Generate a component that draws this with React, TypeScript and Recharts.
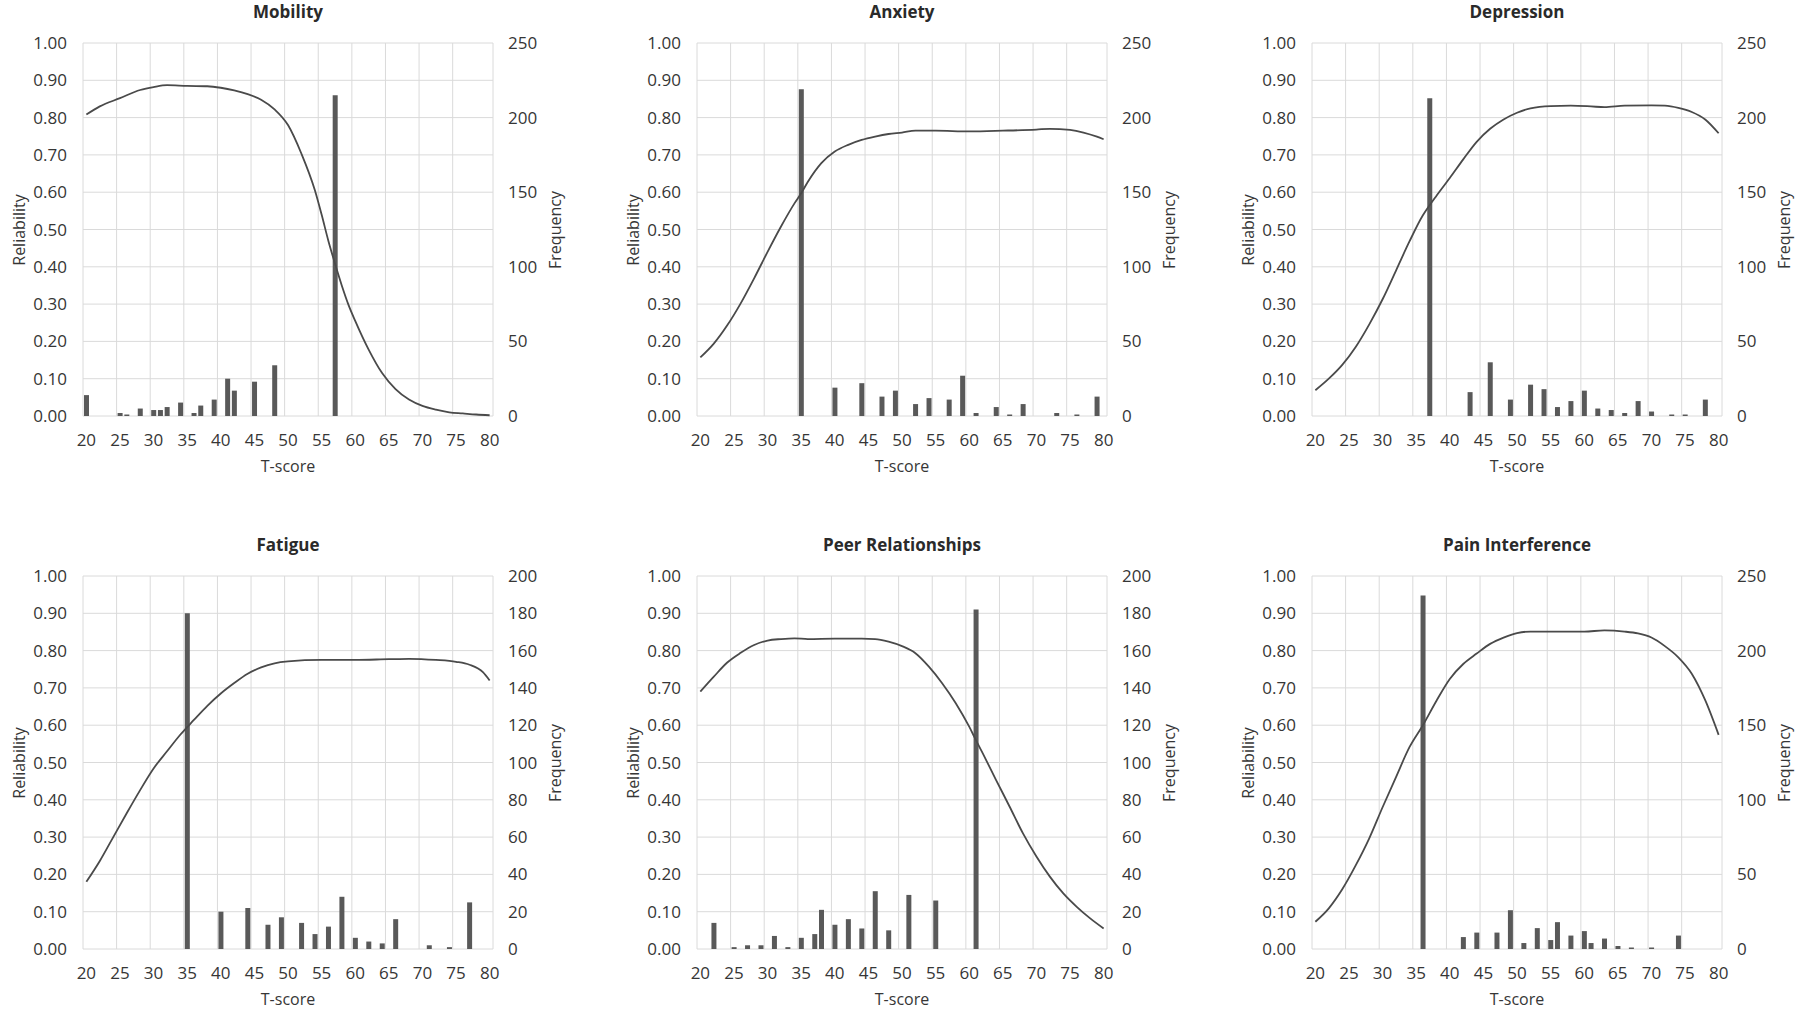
import { ComposedChart, Bar, Line, XAxis, YAxis, CartesianGrid } from 'recharts';

// shared axis ticks
const tTicks = [20, 25, 30, 35, 40, 45, 50, 55, 60, 65, 70, 75, 80];
const gridT = [19.5, 24.5, 29.5, 34.5, 39.5, 44.5, 49.5, 54.5, 59.5, 64.5, 69.5, 74.5, 79.5, 80.5];
const relTicks = [0, 0.1, 0.2, 0.3, 0.4, 0.5, 0.6, 0.7, 0.8, 0.9, 1];
const freqTicks250 = [0, 50, 100, 150, 200, 250];
const freqTicks200 = [0, 20, 40, 60, 80, 100, 120, 140, 160, 180, 200];

// Mobility
const mobilityCurveT = [20, 22, 25, 28, 30, 32, 35, 38, 40, 42, 44, 46, 48, 50, 52, 54, 55, 56, 57, 58, 59, 60, 62, 64, 66, 68, 70, 72, 74, 76, 78, 80];
const mobilityCurveR = [0.808, 0.83, 0.852, 0.874, 0.882, 0.887, 0.885, 0.884, 0.88, 0.873, 0.863, 0.848, 0.822, 0.78, 0.703, 0.605, 0.54, 0.47, 0.408, 0.35, 0.298, 0.255, 0.178, 0.115, 0.072, 0.044, 0.027, 0.017, 0.01, 0.007, 0.004, 0.002];
const mobilityBarT = [20, 25, 26, 28, 30, 31, 32, 34, 36, 37, 39, 41, 42, 45, 48, 57];
const mobilityBarN = [14, 2, 1, 5, 4, 4, 6, 9, 2, 7, 11, 25, 17, 23, 34, 215];

// Anxiety
const anxietyCurveT = [20, 22, 24, 26, 28, 30, 32, 34, 35, 36, 38, 40, 42, 44, 46, 48, 50, 52, 55, 60, 65, 70, 72, 75, 77, 79, 80];
const anxietyCurveR = [0.157, 0.194, 0.243, 0.302, 0.369, 0.44, 0.508, 0.57, 0.597, 0.628, 0.678, 0.709, 0.727, 0.74, 0.749, 0.756, 0.76, 0.765, 0.765, 0.763, 0.765, 0.768, 0.77, 0.767, 0.76, 0.749, 0.742];
const anxietyBarT = [35, 40, 44, 47, 49, 52, 54, 57, 59, 61, 64, 66, 68, 73, 76, 79];
const anxietyBarN = [219, 19, 22, 13, 17, 8, 12, 11, 27, 2, 6, 1, 8, 2, 1, 13];

// Depression
const depressionCurveT = [20, 22, 24, 26, 28, 30, 32, 34, 36, 37, 38, 40, 42, 44, 46, 48, 50, 52, 55, 58, 61, 63, 66, 70, 72, 74, 76, 78, 80];
const depressionCurveR = [0.069, 0.1, 0.137, 0.185, 0.245, 0.313, 0.39, 0.468, 0.538, 0.565, 0.59, 0.638, 0.688, 0.735, 0.77, 0.795, 0.813, 0.825, 0.831, 0.832, 0.83, 0.828, 0.832, 0.833, 0.832, 0.826, 0.815, 0.795, 0.758];
const depressionBarT = [37, 43, 46, 49, 52, 54, 56, 58, 60, 62, 64, 66, 68, 70, 73, 75, 78];
const depressionBarN = [213, 16, 36, 11, 21, 18, 6, 10, 17, 5, 4, 2, 10, 3, 1, 1, 11];

// Fatigue
const fatigueCurveT = [20, 22, 24, 26, 28, 30, 32, 34, 36, 38, 40, 42, 44, 46, 48, 50, 55, 60, 65, 68, 72, 75, 77, 79, 80];
const fatigueCurveR = [0.18, 0.236, 0.3, 0.364, 0.426, 0.484, 0.53, 0.575, 0.614, 0.652, 0.685, 0.713, 0.738, 0.755, 0.766, 0.771, 0.775, 0.775, 0.777, 0.778, 0.775, 0.77, 0.762, 0.742, 0.72];
const fatigueBarT = [35, 40, 44, 47, 49, 52, 54, 56, 58, 60, 62, 64, 66, 71, 74, 77];
const fatigueBarN = [180, 20, 22, 13, 17, 14, 8, 12, 28, 6, 4, 3, 16, 2, 1, 25];

// Peer Relationships
const peerCurveT = [20, 22, 24, 26, 28, 30, 32, 34, 36, 40, 44, 46, 48, 50, 52, 54, 56, 58, 60, 61, 62, 64, 66, 68, 70, 72, 74, 76, 78, 80];
const peerCurveR = [0.69, 0.73, 0.768, 0.794, 0.815, 0.827, 0.831, 0.833, 0.831, 0.832, 0.832, 0.831, 0.824, 0.812, 0.793, 0.757, 0.712, 0.659, 0.596, 0.56, 0.525, 0.453, 0.382, 0.31, 0.248, 0.194, 0.149, 0.113, 0.082, 0.055];
const peerBarT = [22, 25, 27, 29, 31, 33, 35, 37, 38, 40, 42, 44, 46, 48, 51, 55, 61];
const peerBarN = [14, 1, 2, 2, 7, 1, 6, 8, 21, 13, 16, 11, 31, 10, 29, 26, 182];

// Pain Interference
const painCurveT = [20, 22, 24, 26, 28, 30, 32, 34, 36, 38, 40, 42, 44, 46, 48, 50, 52, 55, 60, 63, 66, 68, 70, 72, 74, 76, 78, 80];
const painCurveR = [0.073, 0.109, 0.16, 0.224, 0.296, 0.38, 0.461, 0.541, 0.6, 0.665, 0.724, 0.764, 0.792, 0.818, 0.835, 0.847, 0.851, 0.851, 0.851, 0.854, 0.851, 0.846, 0.835, 0.812, 0.782, 0.738, 0.667, 0.574];
const painBarT = [36, 42, 44, 47, 49, 51, 53, 55, 56, 58, 60, 61, 63, 65, 67, 70, 74];
const painBarN = [237, 8, 11, 11, 26, 4, 14, 6, 18, 9, 12, 4, 7, 2, 1, 1, 9];

type Row = { t: number; rel?: number; freq?: number };

function buildRows(curveT: number[], curveR: number[], barT: number[], barN: number[]): Row[] {
  const rows = new Map<number, Row>();
  curveT.forEach((t, i) => {
    const row = rows.get(t) ?? { t };
    row.rel = curveR[i];
    rows.set(t, row);
  });
  barT.forEach((t, i) => {
    const row = rows.get(t) ?? { t };
    row.freq = barN[i];
    rows.set(t, row);
  });
  return [...rows.values()].sort((a, b) => a.t - b.t);
}

const panels = [
  { title: 'Mobility', rows: buildRows(mobilityCurveT, mobilityCurveR, mobilityBarT, mobilityBarN), freqTicks: freqTicks250 },
  { title: 'Anxiety', rows: buildRows(anxietyCurveT, anxietyCurveR, anxietyBarT, anxietyBarN), freqTicks: freqTicks250 },
  { title: 'Depression', rows: buildRows(depressionCurveT, depressionCurveR, depressionBarT, depressionBarN), freqTicks: freqTicks250 },
  { title: 'Fatigue', rows: buildRows(fatigueCurveT, fatigueCurveR, fatigueBarT, fatigueBarN), freqTicks: freqTicks200 },
  { title: 'Peer Relationships', rows: buildRows(peerCurveT, peerCurveR, peerBarT, peerBarN), freqTicks: freqTicks200 },
  { title: 'Pain Interference', rows: buildRows(painCurveT, painCurveR, painBarT, painBarN), freqTicks: freqTicks250 },
];

const COL_LEFT = [83, 697, 1312];
const ROW_TOP = [43, 576];
const PLOT_W = 410;
const PLOT_H = 373;
const SIDE = 75;
const TOP = 16;
const FONT = '"Open Sans", "Noto Sans", sans-serif';
const TEXT = '#363636';

const tickStyle = { fontSize: 17, fill: TEXT, fontFamily: FONT };

function Panel({ index }: { index: number }) {
  const p = panels[index];
  const L = COL_LEFT[index % 3];
  const T = ROW_TOP[Math.floor(index / 3)];
  const freqMax = p.freqTicks[p.freqTicks.length - 1];
  const textBase: React.CSSProperties = {
    position: 'absolute',
    fontFamily: FONT,
    color: TEXT,
    whiteSpace: 'nowrap',
    textAlign: 'center',
    height: 22,
    lineHeight: '22px',
  };
  return (
    <>
      <div style={{ ...textBase, left: L, width: PLOT_W, top: T - 31 - 11, fontSize: 17, fontWeight: 700, color: '#2a2a2a' }}>
        {p.title}
      </div>
      <div style={{ ...textBase, left: L - 64 - 60, width: 120, top: T + PLOT_H / 2 - 11, fontSize: 16, transform: 'rotate(-90deg)' }}>
        Reliability
      </div>
      <div style={{ ...textBase, left: L + PLOT_W + 62 - 60, width: 120, top: T + PLOT_H / 2 - 11, fontSize: 16, transform: 'rotate(-90deg)' }}>
        Frequency
      </div>
      <div style={{ ...textBase, left: L, width: PLOT_W, top: T + PLOT_H + 50 - 11, fontSize: 16 }}>
        T-score
      </div>
      <div style={{ position: 'absolute', left: L - SIDE, top: T - TOP }}>
        <ComposedChart
          width={PLOT_W + 2 * SIDE}
          height={PLOT_H + TOP + 35}
          data={p.rows}
          margin={{ top: TOP, right: 0, bottom: 0, left: 0 }}
        >
          <XAxis
            xAxisId="t"
            type="number"
            dataKey="t"
            domain={[19.5, 80.5]}
            ticks={tTicks}
            interval={0}
            allowDataOverflow
            height={35}
            axisLine={false}
            tickLine={false}
            tickSize={0}
            tickMargin={18}
            tick={tickStyle}
          />
          <XAxis
            xAxisId="grid"
            orientation="top"
            type="number"
            dataKey="t"
            domain={[19.5, 80.5]}
            ticks={gridT}
            allowDataOverflow
            hide
          />
          <CartesianGrid xAxisId="grid" yAxisId="rel" stroke="#dadada" strokeWidth={1} />
          <YAxis
            yAxisId="rel"
            orientation="left"
            domain={[0, 1]}
            ticks={relTicks}
            interval={0}
            width={SIDE}
            axisLine={false}
            tickLine={false}
            tickSize={0}
            tickMargin={16}
            tick={tickStyle}
            tickFormatter={(v: number) => v.toFixed(2)}
          />
          <YAxis
            yAxisId="freq"
            orientation="right"
            domain={[0, freqMax]}
            ticks={p.freqTicks}
            interval={0}
            width={SIDE}
            axisLine={false}
            tickLine={false}
            tickSize={0}
            tickMargin={15}
            tick={tickStyle}
          />
          <Bar xAxisId="t" yAxisId="freq" dataKey="freq" fill="#595959" barSize={5} isAnimationActive={false} />
          <Line
            xAxisId="t"
            yAxisId="rel"
            dataKey="rel"
            type="monotone"
            stroke="#4a4a4a"
            strokeWidth={1.8}
            dot={false}
            activeDot={false}
            connectNulls
            isAnimationActive={false}
          />
        </ComposedChart>
      </div>
    </>
  );
}

export default function App() {
  return (
    <div style={{ position: 'absolute', left: 0, top: 0, width: 1800, height: 1010, background: '#ffffff', overflow: 'hidden' }}>
      {panels.map((_, i) => (
        <Panel key={i} index={i} />
      ))}
    </div>
  );
}
